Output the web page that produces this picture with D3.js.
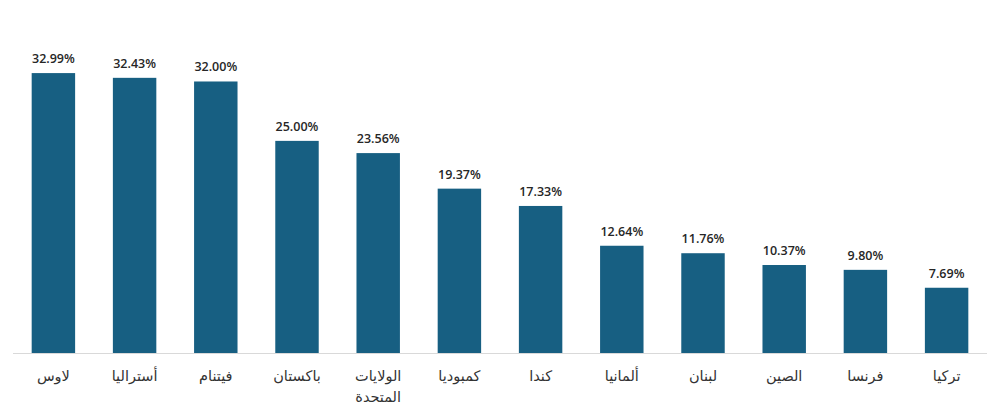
<!DOCTYPE html>
<html><head><meta charset="utf-8">
<script src="https://cdn.jsdelivr.net/npm/d3@7"></script>
<style>body{margin:0;background:#fff}</style>
</head><body>
<svg id="c" width="1000" height="416"></svg>
<script>
const categories = ["لاوس","أستراليا","فيتنام","باكستان","الولايات المتحدة","كمبوديا","كندا","ألمانيا","لبنان","الصين","فرنسا","تركيا"];
const values = [32.99,32.43,32.00,25.00,23.56,19.37,17.33,12.64,11.76,10.37,9.80,7.69];
const labelLines = [["لاوس"],["أستراليا"],["فيتنام"],["باكستان"],["الولايات","المتحدة"],["كمبوديا"],["كندا"],["ألمانيا"],["لبنان"],["الصين"],["فرنسا"],["تركيا"]];

const svg = d3.select("#c");
const x = d3.scaleBand().domain(categories).range([13, 987]).paddingInner(0.465).paddingOuter(0.23);
const y = d3.scaleLinear().domain([0, 33]).range([353, 73]);

svg.append("line").attr("x1",13).attr("x2",987).attr("y1",353.5).attr("y2",353.5)
  .attr("stroke","#d9d9d9").attr("stroke-width",1);

svg.selectAll("rect.bar").data(values).join("rect").attr("class","bar")
  .attr("x",(d,i)=>x(categories[i])).attr("width",x.bandwidth())
  .attr("y",d=>y(d)).attr("height",d=>y(0)-y(d)).attr("fill","#175f82");

svg.selectAll("text.val").data(values).join("text").attr("class","val")
  .attr("x",(d,i)=>x(categories[i])+x.bandwidth()/2).attr("y",d=>y(d)-10)
  .attr("text-anchor","middle").attr("font-family","'Open Sans', 'Noto Sans', sans-serif")
  .attr("font-weight","600").attr("font-size","12.5px").attr("fill","#262626")
  .text(d=>d.toFixed(2)+"%");

const g = svg.selectAll("text.cat").data(labelLines).join("text").attr("class","cat")
  .attr("x",(d,i)=>x(categories[i])+x.bandwidth()/2).attr("y",381)
  .attr("text-anchor","middle").attr("font-family","'DejaVu Sans', sans-serif")
  .attr("font-size","14.5px").attr("fill","#333333");
g.selectAll("tspan").data(d=>d).join("tspan")
  .attr("x",function(){return d3.select(this.parentNode).attr("x");})
  .attr("dy",(d,j)=>j===0?0:21).text(d=>d);
</script>
</body></html>
